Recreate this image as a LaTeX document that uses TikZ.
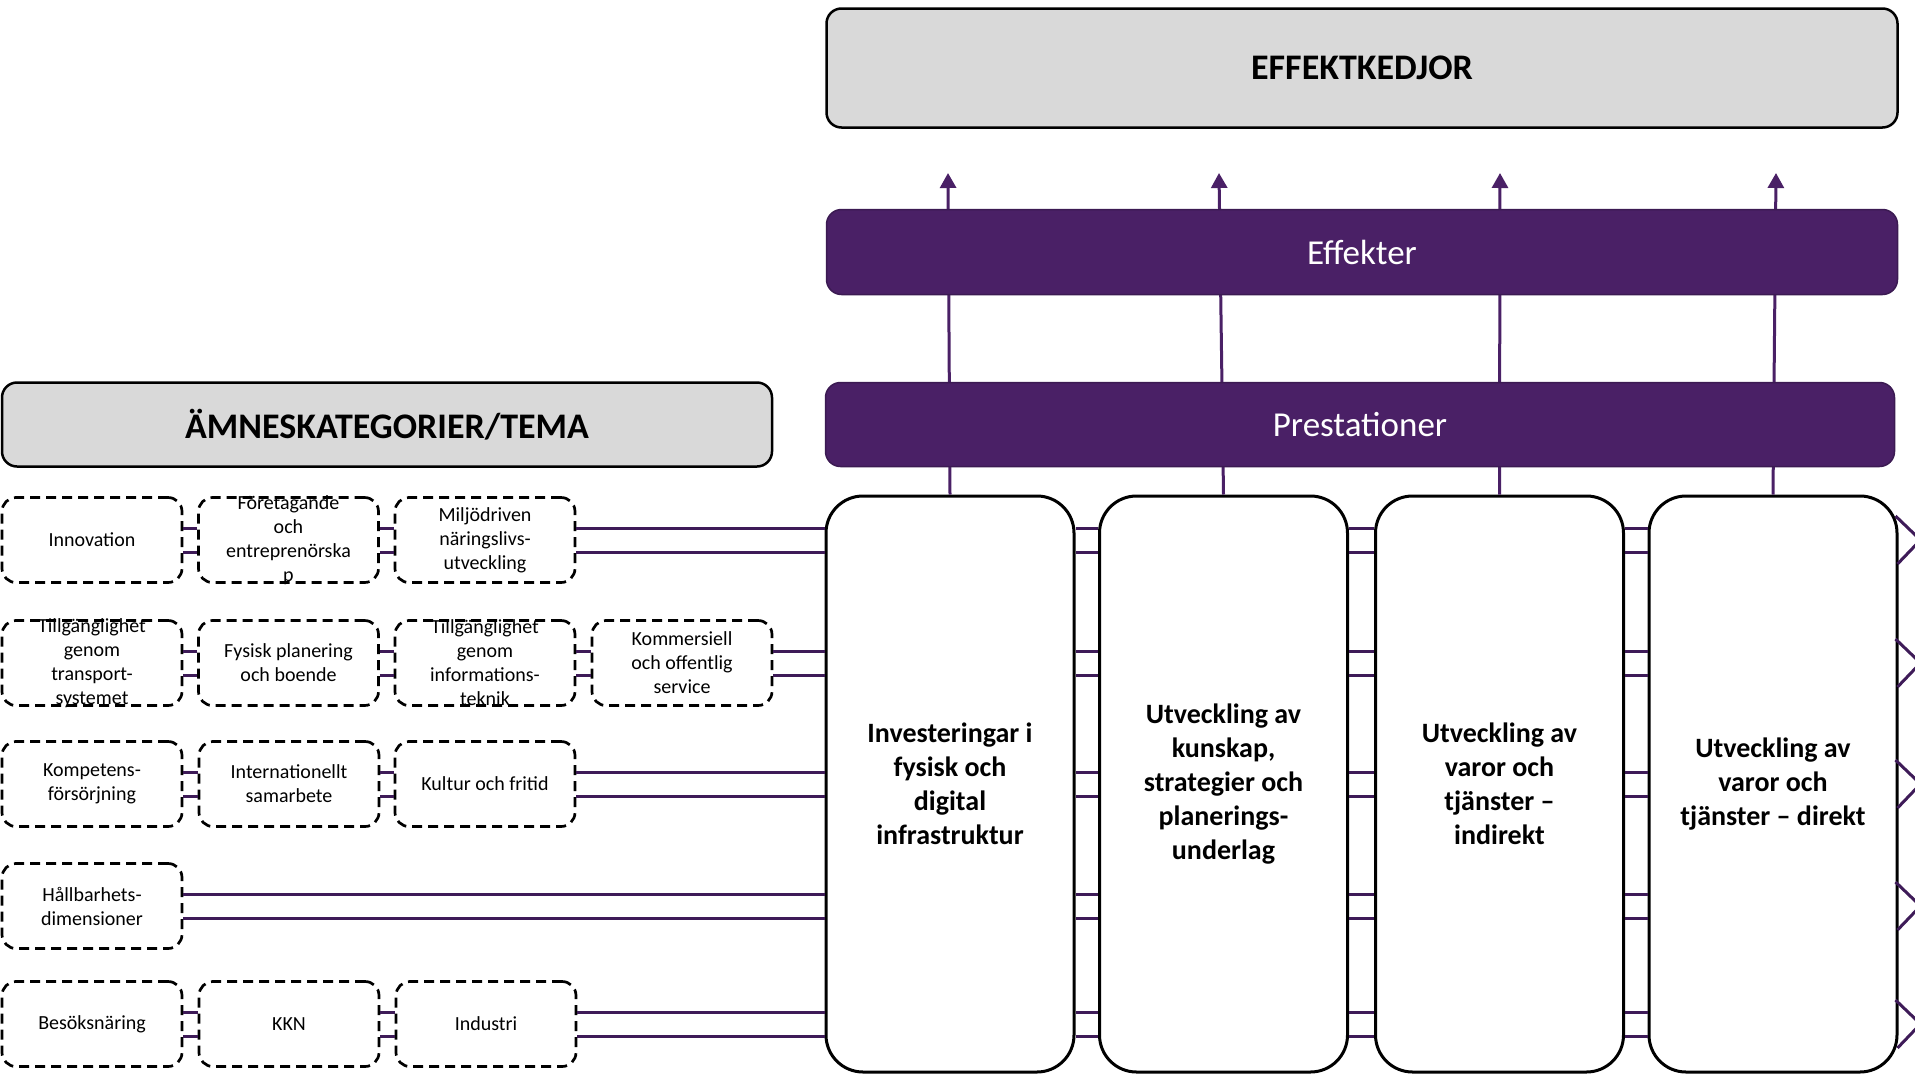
\documentclass[tikz,border=0pt]{standalone}
\usepackage{fontspec}
\setmainfont{Carlito}
\usetikzlibrary{arrows.meta,calc}
\definecolor{plum}{RGB}{74,32,102}
\definecolor{plumline}{RGB}{62,27,88}
\definecolor{panelgray}{RGB}{217,217,217}

% a dashed topic box with its text set on top of it
\newcommand\topicbox[3]{%
  \node[topic] (#1) at (#2) {};
  \node[topictext] (#1-t) at (#1.center) {#3};}

\begin{document}
\begin{tikzpicture}[x=1pt,y=-1pt,
  graybox/.style={draw=black, line width=2.5pt, fill=panelgray, rounded corners=15pt,
    inner sep=0pt, font=\fontsize{36}{43}\selectfont\bfseries},
  plumbox/.style={draw=plum!80!black, line width=1.5pt, fill=plum, rounded corners=15pt,
    inner sep=0pt, text=white, font=\fontsize{35}{42}\selectfont},
  stage/.style={draw=black, line width=3pt, fill=white, rounded corners=37pt,
    minimum width=248pt, minimum height=576pt, inner sep=0pt, align=center,
    font=\fontsize{28}{34}\selectfont\bfseries},
  topic/.style={draw=black, line width=2.7pt, dash pattern=on 10pt off 6pt,
    rounded corners=14pt, minimum width=180pt, minimum height=85pt, inner sep=0pt},
  topictext/.style={align=center, inner sep=0pt, font=\fontsize{20}{24}\selectfont},
  link/.style={draw=plumline, line width=3pt},
  rise/.style={draw=plum, line width=3pt, -{Triangle[length=15pt,width=16pt]}},
]
\useasboundingbox (0,0) rectangle (1915,1074);

% four result columns
\node[stage] (s1) at (950,784) {Investeringar i\\fysisk och\\digital\\infrastruktur};
\node[stage] (s2) at (1223.5,784) {Utveckling av\\kunskap,\\strategier och\\planerings-\\underlag};
\node[stage] (s3) at (1499.5,784) {Utveckling av\\varor och\\tjänster –\\indirekt};
\node[stage] (s4) at (1773,784) {Utveckling av\\varor och\\tjänster – direkt};

% upward flows from each column
\coordinate (tip1) at (948,173);
\coordinate (tip2) at (1219,173);
\coordinate (tip3) at (1500,173);
\coordinate (tip4) at (1776,173);
\foreach \i in {1,...,4} { \draw[rise] (s\i.north) -- (tip\i); }

% headline bands
\node[graybox, minimum width=1071pt, minimum height=119pt] (chain) at (1362,68) {EFFEKTKEDJOR};
\node[plumbox, minimum width=1071pt, minimum height=85pt] (eff) at (1362,252) {Effekter};
\node[plumbox, minimum width=1069pt, minimum height=84pt] (pres) at (1360,424.5) {Prestationer};
\node[graybox, minimum width=770pt, minimum height=84pt] (theme) at (387,424.5) {ÄMNESKATEGORIER/TEMA};

% topic boxes
\topicbox{innov}{92,540}{Innovation}
\topicbox{found}{288.5,540}{Företagande\\och\\entreprenörska\\p}
\topicbox{envi}{485,540}{Miljödriven\\näringslivs-\\utveckling}

\topicbox{transp}{92,663}{Tillgänglighet\\genom\\transport-\\systemet}
\topicbox{plan}{288.5,663}{Fysisk planering\\och boende}
\topicbox{ict}{485,663}{Tillgänglighet\\genom\\informations-\\teknik}
\topicbox{serv}{682,663}{Kommersiell\\och offentlig\\service}

\topicbox{skill}{92,784}{Kompetens-\\försörjning}
\topicbox{intl}{289,784}{Internationellt\\samarbete}
\topicbox{cult}{485,784}{Kultur och fritid}

\topicbox{sust}{92,906}{Hållbarhets-\\dimensioner}

\topicbox{visit}{92,1024}{Besöksnäring}
\topicbox{kkn}{289,1024}{KKN}
\topicbox{ind}{486,1024}{Industri}

% row levels of the double links
\coordinate (r1a) at (0,528);  \coordinate (r1b) at (0,552);  \coordinate (r1) at (0,540);
\coordinate (r2a) at (0,651);  \coordinate (r2b) at (0,675);  \coordinate (r2) at (0,663);
\coordinate (r3a) at (0,772);  \coordinate (r3b) at (0,796);  \coordinate (r3) at (0,784);
\coordinate (r4a) at (0,894);  \coordinate (r4b) at (0,918);  \coordinate (r4) at (0,906);
\coordinate (r5a) at (0,1012); \coordinate (r5b) at (0,1036); \coordinate (r5) at (0,1024);

% double links along each row
\foreach \row/\pairs in {
  1/{innov/found,found/envi,envi/s1,s1/s2,s2/s3,s3/s4},
  2/{transp/plan,plan/ict,ict/serv,serv/s1,s1/s2,s2/s3,s3/s4},
  3/{skill/intl,intl/cult,cult/s1,s1/s2,s2/s3,s3/s4},
  4/{sust/s1,s1/s2,s2/s3,s3/s4},
  5/{visit/kkn,kkn/ind,ind/s1,s1/s2,s2/s3,s3/s4}} {
  \foreach \a/\b in \pairs {
    \draw[link] (r\row a -| \a.east) -- (r\row a -| \b.west);
    \draw[link] (r\row b -| \a.east) -- (r\row b -| \b.west);
  }
  % links leaving the last column to the right
  \coordinate (out\row) at ($(r\row -| s4.east)+(22,0)$);
  \draw[link] ($(r\row -| s4.east)+(-3,-24)$) -- (out\row) -- ($(r\row -| s4.east)+(-1,24)$);
}
\end{tikzpicture}
\end{document}
